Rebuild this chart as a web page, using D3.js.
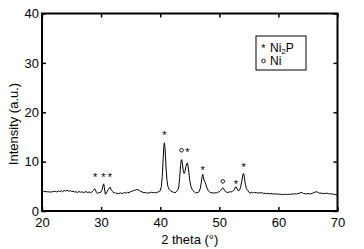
<!DOCTYPE html>
<html><head><meta charset="utf-8">
<script src="https://cdn.jsdelivr.net/npm/d3@7"></script>
<style>body{margin:0;background:#fff}svg{display:block}text{font-family:"Liberation Sans",Arial,sans-serif}</style>
</head><body><svg id="c" width="364" height="249"></svg>
<script>
const twoTheta = [20.0,20.25,20.5,20.75,21.0,21.25,21.5,21.75,22.0,22.25,22.5,22.75,23.0,23.25,23.5,23.75,24.0,24.25,24.5,24.75,25.0,25.25,25.5,25.75,26.0,26.25,26.5,26.75,27.0,27.25,27.5,27.75,28.0,28.25,28.5,28.75,28.9,29.05,29.2,29.4,29.6,29.8,30.0,30.2,30.35,30.45,30.55,30.7,30.85,31.0,31.2,31.4,31.55,31.7,31.9,32.1,32.3,32.5,32.75,33.0,33.25,33.5,33.75,34.0,34.25,34.5,34.75,35.0,35.25,35.5,35.75,36.0,36.25,36.5,36.75,37.0,37.25,37.5,37.75,38.0,38.25,38.5,38.75,39.0,39.25,39.5,39.75,40.0,40.2,40.35,40.5,40.6,40.7,40.8,40.9,41.0,41.15,41.3,41.5,41.75,42.0,42.25,42.5,42.75,43.0,43.15,43.3,43.45,43.55,43.65,43.75,43.9,44.05,44.2,44.35,44.5,44.6,44.7,44.85,45.0,45.2,45.4,45.6,45.8,46.0,46.2,46.4,46.6,46.8,46.95,47.1,47.2,47.3,47.45,47.6,47.75,47.9,48.1,48.3,48.5,48.75,49.0,49.25,49.5,49.75,50.0,50.2,50.4,50.6,50.8,51.0,51.25,51.5,51.75,52.0,52.25,52.5,52.7,52.85,53.0,53.2,53.4,53.6,53.8,53.95,54.1,54.25,54.4,54.6,54.8,55.0,55.2,55.4,55.6,55.8,56.0,56.25,56.5,56.75,57.0,57.25,57.5,57.75,58.0,58.25,58.5,58.75,59.0,59.25,59.5,59.75,60.0,60.25,60.5,60.75,61.0,61.25,61.5,61.75,62.0,62.25,62.5,62.75,63.0,63.25,63.5,63.75,64.0,64.25,64.5,64.75,65.0,65.25,65.5,65.75,66.0,66.25,66.5,66.75,67.0,67.25,67.5,67.75,68.0,68.25,68.5,68.75,69.0,69.25,69.5,69.75,70.0];
const intensity = [4.1,4.0,3.9,3.95,3.85,3.9,3.8,3.95,3.9,4.0,3.85,4.05,3.95,4.1,3.9,4.15,4.05,4.2,4.0,4.15,3.95,4.0,3.85,3.9,3.75,3.95,3.8,3.9,3.7,3.85,3.9,3.75,3.85,3.7,3.9,4.2,4.5,4.3,3.7,3.5,3.8,3.7,3.9,4.4,5.3,5.5,4.8,3.4,3.5,3.9,4.3,4.7,4.8,4.3,4.0,3.7,3.8,3.55,3.6,3.5,3.7,3.55,3.6,3.75,3.6,3.8,3.7,3.95,4.0,4.15,4.2,4.35,4.3,4.15,3.9,3.85,3.7,3.75,3.6,3.7,3.65,3.8,3.7,3.75,3.65,3.8,3.9,4.1,5.0,7.0,10.5,12.8,13.8,13.0,11.0,8.5,6.2,5.0,4.4,4.1,3.9,3.8,3.7,3.9,4.3,5.0,6.8,9.2,10.3,10.4,9.6,8.2,7.6,8.0,9.0,9.6,9.7,9.2,7.8,6.2,5.0,4.4,4.1,3.8,3.6,3.8,3.7,4.0,4.6,5.8,7.0,7.4,7.0,6.1,5.8,5.3,4.7,4.2,3.9,3.7,3.75,3.6,3.7,3.65,3.8,3.9,4.1,4.5,4.7,4.4,4.0,3.8,3.75,3.9,3.85,4.0,4.3,4.8,4.9,4.5,4.1,4.2,4.8,6.0,7.2,7.6,6.8,5.4,4.5,4.2,3.8,3.6,3.8,3.65,3.75,3.7,3.75,3.6,3.7,3.65,3.7,3.55,3.6,3.5,3.6,3.45,3.55,3.5,3.4,3.5,3.4,3.45,3.35,3.4,3.3,3.35,3.4,3.3,3.4,3.35,3.45,3.4,3.5,3.45,3.5,3.6,3.75,3.7,3.55,3.5,3.45,3.55,3.5,3.45,3.6,3.7,3.85,3.9,3.7,3.6,3.65,3.5,3.6,3.55,3.6,3.5,3.45,3.5,3.4,3.35,3.3,3.2];
const starPeaks = [[29.0,7.0],[30.4,7.0],[31.5,7.0],[40.7,15.6],[44.6,12.1],[47.2,8.6],[52.8,5.7],[54.1,9.1]];
const circlePeaks = [[43.6,12.3],[50.6,6.0]];
const xTicks = [20,30,40,50,60,70];
const yTicks = [0,10,20,30,40];

const svg = d3.select("#c");
const L=42, R=337.5, T=13.5, B=211;
const x = d3.scaleLinear().domain([20,70]).range([L,R]);
const y = d3.scaleLinear().domain([0,40]).range([B,T]);

// data line
const line = d3.line().x((d,i)=>x(twoTheta[i])).y((d,i)=>y(intensity[i]));
svg.append("path").datum(intensity).attr("d",line).attr("fill","none").attr("stroke","#000").attr("stroke-width",1);

// axes with inward ticks
const ax = (g)=>{g.selectAll(".domain").remove(); g.selectAll("line").attr("stroke","#000").attr("stroke-width",1.5);};
svg.append("g").attr("transform",`translate(0,${B})`).call(d3.axisBottom(x).tickValues(xTicks).tickSize(-4).tickPadding(6.5)).call(ax)
  .selectAll("text").attr("font-size",13).attr("fill","#000").attr("font-family","Liberation Sans, Arial");
svg.append("g").attr("transform",`translate(0,${T})`).call(d3.axisTop(x).tickValues(xTicks).tickSize(-4).tickFormat("")).call(ax);
svg.append("g").attr("transform",`translate(${L},0)`).call(d3.axisLeft(y).tickValues(yTicks).tickSize(-4).tickPadding(3)).call(ax)
  .selectAll("text").attr("font-size",13).attr("fill","#000").attr("font-family","Liberation Sans, Arial");
svg.append("g").attr("transform",`translate(${R},0)`).call(d3.axisRight(y).tickValues(yTicks).tickSize(-4).tickFormat("")).call(ax);
// frame
svg.append("rect").attr("x",L).attr("y",T).attr("width",R-L).attr("height",B-T).attr("fill","none").attr("stroke","#000").attr("stroke-width",2);

// markers
svg.selectAll(".star").data(starPeaks).enter().append("text").attr("x",d=>x(d[0])).attr("y",d=>y(d[1])+5)
  .attr("text-anchor","middle").attr("font-size",11).text("*");
svg.selectAll(".circ").data(circlePeaks).enter().append("circle").attr("cx",d=>x(d[0])).attr("cy",d=>y(d[1]))
  .attr("r",1.8).attr("fill","none").attr("stroke","#000").attr("stroke-width",0.9);

// legend
svg.append("rect").attr("x",256).attr("y",36).attr("width",50).attr("height",34).attr("fill","#fff").attr("stroke","#000").attr("stroke-width",1);
svg.append("text").attr("x",263.5).attr("y",52).attr("text-anchor","middle").attr("font-size",11).text("*");
const t1 = svg.append("text").attr("x",270).attr("y",51.5).attr("font-size",12);
t1.append("tspan").text("Ni");
t1.append("tspan").attr("font-size",8).attr("dy",2.5).text("2");
t1.append("tspan").attr("dy",-2.5).text("P");
svg.append("circle").attr("cx",263.5).attr("cy",61).attr("r",1.8).attr("fill","none").attr("stroke","#000").attr("stroke-width",0.9);
svg.append("text").attr("x",270).attr("y",65).attr("font-size",12).text("Ni");

// titles
svg.append("text").attr("x",(L+R)/2).attr("y",244).attr("text-anchor","middle").attr("font-size",13).text("2 theta (°)");
svg.append("text").attr("transform","translate(18,124) rotate(-90)").attr("text-anchor","middle").attr("font-size",13).text("Intensity (a.u.)");
</script></body></html>
